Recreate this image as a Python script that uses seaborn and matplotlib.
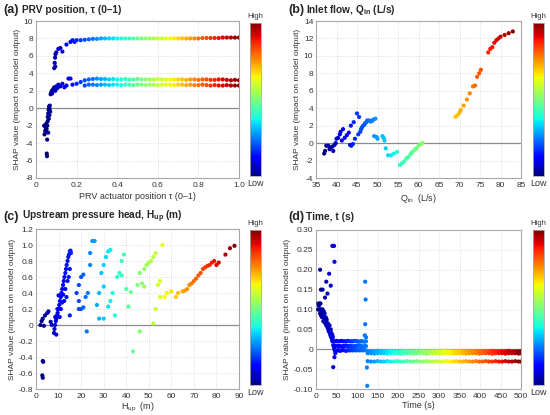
import numpy as np
import pandas as pd
import matplotlib
matplotlib.use('Agg')
import matplotlib.pyplot as plt
import seaborn as sns

# ---- (a) PRV position ----
tau_early = [0.040, 0.042, 0.045, 0.048, 0.050, 0.052, 0.053, 0.054, 0.055, 0.056,
             0.058, 0.060, 0.062, 0.063, 0.065, 0.066, 0.068, 0.070, 0.060, 0.057,
             0.064, 0.067, 0.072, 0.075, 0.078, 0.080, 0.085, 0.090, 0.095, 0.100,
             0.105, 0.110, 0.120, 0.130, 0.140, 0.150, 0.160, 0.170, 0.180, 0.200,
             0.220, 0.090, 0.092, 0.094, 0.095, 0.096, 0.100, 0.110, 0.120, 0.130,
             0.150, 0.170, 0.180, 0.190, 0.200, 0.220]
shap_tau_early = [-2.0, -3.0, -2.6, -2.2, -1.8, -2.4, -5.2, -5.5, -3.6, -2.0,
                  -1.0, -0.6, -0.2, -1.2, 0.0, -0.8, 0.3, -0.4, -2.8, -1.5,
                  0.2, -0.1, 1.6, 1.8, 2.0, 1.7, 2.2, 2.4, 2.0, 2.5,
                  2.3, 2.7, 2.5, 2.8, 2.4, 2.6, 3.4, 3.4, 2.7, 2.8,
                  3.0, 4.6, 5.2, 5.8, 4.8, 6.2, 6.4, 6.8, 6.9, 6.5,
                  7.3, 7.6, 7.8, 7.6, 7.8, 7.8]
tau_flat = [0.24, 0.26, 0.28, 0.30, 0.32, 0.34, 0.36, 0.38, 0.40, 0.42,
            0.44, 0.46, 0.48, 0.50, 0.52, 0.54, 0.56, 0.58, 0.60, 0.62,
            0.64, 0.66, 0.68, 0.70, 0.72, 0.74, 0.76, 0.78, 0.80, 0.82,
            0.84, 0.86, 0.88, 0.90, 0.92, 0.94, 0.96, 0.98, 1.00]
shap_tau_top = [7.85, 7.9, 7.95, 7.95, 8.0, 8.0, 8.0, 8.0, 8.0, 8.0,
                8.0, 8.0, 8.0, 8.0, 8.0, 8.0, 8.0, 8.0, 8.0, 8.0,
                8.0, 8.0, 8.0, 8.0, 8.0, 8.0, 8.0, 8.0, 8.0, 8.05,
                8.05, 8.05, 8.05, 8.05, 8.1, 8.1, 8.1, 8.1, 8.1]
shap_tau_mid = [3.2, 3.3, 3.35, 3.4, 3.35, 3.35, 3.3, 3.35, 3.3, 3.3,
                3.35, 3.3, 3.3, 3.35, 3.3, 3.3, 3.3, 3.3, 3.35, 3.3,
                3.3, 3.3, 3.3, 3.3, 3.3, 3.25, 3.3, 3.3, 3.25, 3.3,
                3.3, 3.25, 3.25, 3.3, 3.3, 3.25, 3.2, 3.25, 3.2]
shap_tau_low = [2.6, 2.7, 2.7, 2.65, 2.7, 2.7, 2.65, 2.7, 2.7, 2.65,
                2.7, 2.7, 2.65, 2.7, 2.7, 2.65, 2.7, 2.7, 2.65, 2.7,
                2.7, 2.7, 2.65, 2.7, 2.7, 2.65, 2.7, 2.65, 2.65, 2.7,
                2.65, 2.6, 2.65, 2.6, 2.6, 2.65, 2.6, 2.6, 2.6]

# ---- (b) Inlet flow ----
flow = [37.0, 37.2, 37.5, 38.0, 38.3, 38.6, 39.0, 39.2, 39.5, 39.8,
        40.0, 40.4, 40.8, 41.0, 41.3, 41.6, 42.0, 42.5, 43.0, 43.3,
        43.6, 43.5, 44.0, 44.2, 44.5, 45.0, 45.3, 45.5, 45.8, 46.0,
        46.5, 47.0, 47.5, 48.0, 48.5, 49.0, 49.5, 49.2, 49.8, 50.0,
        51.2, 51.5, 51.7, 52.0, 52.6, 53.3, 54.0, 54.8, 55.5, 56.0,
        56.5, 57.0, 57.5, 58.0, 58.5, 59.0, 59.5, 60.0, 60.5, 61.0,
        69.0, 69.5, 70.0, 70.3, 71.0, 71.8, 72.5, 73.3, 73.8, 74.3,
        74.8, 75.2, 77.0, 77.5, 78.0, 78.5, 79.0, 79.5, 80.0, 81.0,
        82.0, 83.0, 46.2, 46.8, 47.3, 48.2, 48.8, 57.2, 58.2, 59.2]
shap_flow = [-1.2, -0.9, -0.3, -0.3, -0.7, -0.5, -0.4, -0.9, -0.2, 0.0,
             0.5, 0.6, 1.0, 1.3, 0.3, 1.6, 0.6, 0.9, 1.2, -0.2,
             -0.3, 2.0, -0.1, 2.4, 0.5, 3.4, 1.0, 3.0, 1.3, 1.6,
             2.0, 2.3, 2.6, 2.6, 2.5, 2.7, 2.8, 0.8, 0.7, 0.5,
             0.8, 0.6, 0.3, -0.6, -1.4, -1.4, -1.2, -1.0, -2.5, -2.3,
             -2.1, -1.8, -1.6, -1.3, -1.0, -0.8, -0.6, -0.3, -0.1, 0.0,
             3.0, 3.2, 3.5, 3.8, 4.3, 5.0, 5.7, 6.5, 6.6, 7.6,
             8.0, 8.4, 10.4, 10.8, 11.0, 11.5, 11.8, 12.0, 12.2, 12.4,
             12.6, 12.8, 1.8, 2.1, 2.4, 2.5, 2.6, -1.7, -1.2, -0.7]

# ---- (c) Upstream pressure head ----
head = [2.0, 2.5, 3.0, 3.5, 4.0, 5.0, 5.5, 3.0, 3.2, 2.8, 3.0, 6.5, 7.0,
        8.0, 8.2, 8.5, 8.8, 9.0, 9.3, 9.6, 10.0, 10.3, 10.6,
        11.0, 11.3, 11.6, 12.0, 12.3, 12.6, 13.0, 13.3, 13.6, 14.0,
        14.3, 14.6, 15.0, 15.3, 15.5, 10.0, 12.0, 15.0, 9.0, 11.5,
        8.5, 9.5, 10.5, 11.0, 12.5, 13.0, 14.0, 15.0, 13.5, 14.5,
        18.0, 19.0, 19.0, 20.0, 21.0, 22.0, 23.0, 24.0, 25.0, 26.0, 22.5, 20.0, 21.0, 19.0, 24.0,
        27.0, 28.0, 30.0, 29.0, 30.0, 31.0, 32.0, 33.0, 28.0, 30.0, 32.0, 33.0, 34.0, 35.0,
        36.0, 37.0, 38.0, 39.0, 40.0, 38.0, 42.0, 41.0, 43.0,
        45.0, 46.0, 47.0, 48.0, 49.0, 50.0, 51.0, 52.0, 53.0, 46.0, 48.0, 52.0, 53.0, 54.0, 55.0, 56.0, 55.0,
        57, 58, 60, 62, 63, 65, 66, 67, 68, 69, 70, 71, 72,
        73, 74, 75, 76, 77, 78, 79, 80, 81, 84, 86, 88]
shap_head = [0.0, 0.05, 0.08, -0.01, 0.12, 0.15, 0.17, -0.45, -0.46, -0.63, -0.66, 0.04, 0.0,
             -0.1, -0.05, 0.0, 0.05, 0.08, 0.12, 0.15, 0.2, 0.25, 0.3,
             0.35, 0.4, 0.45, 0.5, 0.55, 0.6, 0.65, 0.7, 0.75, 0.8,
             0.85, 0.88, 0.92, 0.93, 0.9, 0.37, 0.38, 0.12, -0.12, 0.28,
             0.1, 0.2, 0.1, 0.2, 0.3, 0.45, 0.55, 0.7, 0.35, 0.6,
             0.4, 0.3, 0.2, 0.2, 0.22, 0.35, 0.4, 0.9, 1.05, 1.05, -0.08, 0.6, 0.63, 0.5, 0.75,
             0.25, 0.08, 0.08, 0.65, 0.75, 0.85, 0.92, 0.94, 0.4, 0.48, 0.23, 0.3, 0.4, 0.12,
             0.6, 0.65, 0.8, 0.88, 0.45, 0.62, 0.41, 0.23, -0.33,
             0.5, 0.65, 0.52, 0.7, 0.75, 0.78, 0.8, 0.85, 0.9, -0.08, 0.48, 0.02, 0.2, 0.5, 0.55, 1.0, 0.35,
             0.35, 0.4, 0.42, 0.35, 0.4, 0.42, 0.43, 0.45, 0.5, 0.52, 0.55, 0.58, 0.62,
             0.65, 0.7, 0.72, 0.74, 0.75, 0.78, 0.8, 0.75, 0.78, 0.88, 0.96, 0.99]

# ---- (d) Time ----
time_early = [5, 6, 7, 8, 9, 10, 10, 11, 12, 12,
              13, 14, 15, 15, 16, 17, 18, 18, 19, 20,
              20, 21, 22, 23, 24, 25, 25, 26, 27, 28,
              29, 30, 30, 31, 32, 33, 34, 35, 35, 36,
              37, 38, 39, 40, 40, 41, 42, 43, 44, 45,
              10, 12, 16, 22, 25, 28, 32, 36, 40, 44, 45, 42, 45, 47,
              119, 120, 120, 121, 122, 124, 125]
shap_time_early = [0.10, 0.115, 0.11, 0.10, 0.115, 0.10, 0.09, 0.115, 0.10, 0.085,
                   0.10, 0.095, 0.09, 0.08, 0.10, 0.09, 0.085, 0.07, 0.095, 0.08,
                   0.07, 0.09, 0.075, 0.065, 0.08, 0.06, 0.07, 0.075, 0.06, 0.055,
                   0.065, 0.05, 0.06, 0.045, 0.05, 0.06, 0.04, 0.045, 0.035, 0.05,
                   0.03, 0.04, 0.025, 0.035, 0.02, 0.03, 0.01, 0.02, 0.005, 0.0,
                   0.2, 0.15, 0.15, 0.13, 0.17, 0.14, 0.19, 0.16, 0.26, 0.26, 0.22, -0.045, -0.02, -0.01,
                   0.035, 0.17, 0.063, 0.125, 0.03, -0.046, -0.092]
time_mid = [46, 50, 54, 58, 62, 66, 70, 74, 78, 82,
            86, 90, 94, 98, 102, 106, 110, 114, 118, 122]
shap_time_mid_hi = [0.02, 0.021, 0.02, 0.02, 0.021, 0.02, 0.02, 0.02, 0.021, 0.02,
                    0.02, 0.02, 0.021, 0.02, 0.02, 0.019, 0.02, 0.02, 0.019, 0.02]
shap_time_mid_lo = [0.008, 0.009, 0.008, 0.008, 0.007, 0.008, 0.008, 0.009, 0.008, 0.008,
                    0.008, 0.007, 0.008, 0.008, 0.009, 0.008, 0.008, 0.007, 0.008, 0.008]
shap_time_mid_zero = [-0.003, -0.004, -0.002, -0.004, -0.003, -0.002, -0.003, -0.004, -0.002, -0.003,
                      -0.002, -0.003, -0.002, -0.003, -0.002, -0.003, -0.002, -0.003, -0.002, -0.003]
time_late = [126, 134, 142, 150, 158, 166, 174, 182, 190, 198,
             206, 214, 222, 230, 238, 246, 254, 262, 270, 278,
             286, 294, 302, 310, 318, 326, 334, 342, 350, 358,
             366, 374, 382, 390, 398, 406, 414, 422, 430, 438,
             446, 454, 462, 470, 478, 486, 494, 500]
shap_time_late_a = [-0.005, -0.005, -0.005, -0.004, -0.005, -0.005, -0.005, -0.004, -0.005, -0.005,
                    -0.005, -0.005, -0.004, -0.005, -0.005, -0.005, -0.005, -0.004, -0.005, -0.005,
                    -0.005, -0.005, -0.005, -0.004, -0.005, -0.005, -0.005, -0.005, -0.004, -0.005,
                    -0.005, -0.005, -0.005, -0.004, -0.005, -0.005, -0.005, -0.005, -0.004, -0.005,
                    -0.005, -0.005, -0.005, -0.004, -0.005, -0.005, -0.005, -0.005]
shap_time_late_b = [-0.010, -0.010, -0.011, -0.010, -0.010, -0.010, -0.011, -0.010, -0.010, -0.010,
                    -0.011, -0.010, -0.010, -0.010, -0.011, -0.010, -0.010, -0.010, -0.011, -0.010,
                    -0.010, -0.010, -0.011, -0.010, -0.010, -0.010, -0.011, -0.010, -0.010, -0.010,
                    -0.011, -0.010, -0.010, -0.010, -0.011, -0.010, -0.010, -0.010, -0.011, -0.010,
                    -0.010, -0.010, -0.011, -0.010, -0.010, -0.010, -0.011, -0.010]
shap_time_late_c = [-0.030, -0.031, -0.031, -0.030, -0.031, -0.031, -0.030, -0.031, -0.031, -0.030,
                    -0.031, -0.031, -0.030, -0.031, -0.031, -0.030, -0.031, -0.031, -0.030, -0.031,
                    -0.031, -0.030, -0.031, -0.031, -0.030, -0.031, -0.031, -0.030, -0.031, -0.031,
                    -0.030, -0.031, -0.031, -0.030, -0.031, -0.031, -0.030, -0.031, -0.031, -0.030,
                    -0.031, -0.031, -0.030, -0.031, -0.031, -0.030, -0.031, -0.031]

# assemble tables
df_a = pd.DataFrame({'x': tau_early + tau_flat * 3,
                     'y': shap_tau_early + shap_tau_top + shap_tau_mid + shap_tau_low})
df_b = pd.DataFrame({'x': flow, 'y': shap_flow})
df_c = pd.DataFrame({'x': head, 'y': shap_head})
df_d = pd.DataFrame({'x': time_early + time_mid * 3 + time_late * 3,
                     'y': shap_time_early + shap_time_mid_hi + shap_time_mid_lo + shap_time_mid_zero
                          + shap_time_late_a + shap_time_late_b + shap_time_late_c})

sns.set_style('white')
plt.rcParams['font.family'] = ['Liberation Sans', 'DejaVu Sans']
plt.rcParams['mathtext.fontset'] = 'custom'
plt.rcParams['mathtext.rm'] = 'Liberation Sans'
plt.rcParams['mathtext.bf'] = 'Liberation Sans:bold'

jet = plt.get_cmap('jet')
fig = plt.figure(figsize=(5.5, 4.15), dpi=100)

W, H = 550.0, 415.0
def frac(l, t, r, b):
    return [l / W, 1 - b / H, (r - l) / W, (b - t) / H]

def fmt(v, f):
    return '0' if abs(v) < 1e-9 else f.format(v)

panels = [
    dict(df=df_a, ax=frac(36, 21, 239, 178), cb=frac(250, 23, 261, 176),
         xlim=(0, 1), ylim=(-8, 10), xt=np.arange(0, 1.01, 0.2), yt=np.arange(-8, 10.1, 2),
         xfmt='{:.1f}', yfmt='{:g}', xlabel='PRV actuator position τ (0–1)', lp=2,
         tag='(a)', title='PRV position, τ (0–1)', tx=(3, 10), ttx=22, norm=(0.05, 1.0)),
    dict(df=df_b, ax=frac(316, 21, 521, 178), cb=frac(533, 23, 544, 176),
         xlim=(35, 85), ylim=(-4, 14), xt=np.arange(35, 86, 5), yt=np.arange(-4, 14.1, 2),
         xfmt='{:g}', yfmt='{:g}', xlabel='Q$_{\\mathregular{in}}$  (L/s)', lp=2,
         tag='(b)', title='Inlet flow, Q$_{\\mathbf{in}}$ (L/s)', tx=(288, 10), ttx=306, norm=(37, 83)),
    dict(df=df_c, ax=frac(36, 229, 239, 389), cb=frac(250, 230, 261, 385),
         xlim=(0, 90), ylim=(-0.8, 1.2), xt=np.arange(0, 91, 10), yt=np.arange(-0.8, 1.21, 0.2),
         xfmt='{:g}', yfmt='{:.1f}', xlabel='H$_{\\mathregular{up}}$  (m)', lp=0.5,
         tag='(c)', title='Upstream pressure head, H$_{\\mathbf{up}}$ (m)', tx=(3, 217), ttx=22, norm=(2, 88)),
    dict(df=df_d, ax=frac(316, 230, 521, 389), cb=frac(533, 230, 544, 385),
         xlim=(0, 500), ylim=(-0.1, 0.3), xt=np.arange(0, 501, 50), yt=np.arange(-0.1, 0.31, 0.05),
         xfmt='{:g}', yfmt='{:.2f}', xlabel='Time (s)', lp=0.5,
         tag='(d)', title='Time, t (s)', tx=(288, 217), ttx=306, norm=(0, 500)),
]

edge = '#a8a8a8'
for p in panels:
    ax = fig.add_axes(p['ax'])
    ax.axhline(0, color='#8c8c8c', lw=0.9, zorder=1)
    sns.scatterplot(data=p['df'], x='x', y='y', hue='x', palette=jet,
                    hue_norm=p['norm'], s=9, linewidth=0, legend=False, ax=ax, zorder=3)
    ax.set_xlim(*p['xlim'])
    ax.set_ylim(*p['ylim'])
    ax.set_xticks(p['xt'])
    ax.set_yticks(p['yt'])
    ax.set_xticklabels([fmt(v, p['xfmt']) for v in p['xt']])
    ax.set_yticklabels([fmt(v, p['yfmt']) for v in p['yt']])
    ax.grid(True, color='#d4d4d4', ls=':', lw=0.6)
    ax.tick_params(labelsize=6, length=2, direction='in', colors='#333333', pad=2)
    ax.tick_params(axis='x', pad=3)
    for s in ax.spines.values():
        s.set_color(edge)
        s.set_linewidth(0.8)
    ax.set_xlabel(p['xlabel'], fontsize=6.5, color='#333333', labelpad=p['lp'])
    ax.set_ylabel('SHAP value (impact on model output)', fontsize=6, color='#333333', labelpad=2)

    cax = fig.add_axes(p['cb'])
    sm = plt.cm.ScalarMappable(cmap=jet, norm=plt.Normalize(0, 1))
    cb = fig.colorbar(sm, cax=cax)
    cb.set_ticks([])
    cb.outline.set_edgecolor(edge)
    cb.outline.set_linewidth(0.6)
    cx = (p['cb'][0] + p['cb'][2] / 2)
    fig.text(cx, p['cb'][1] + p['cb'][3] + 0.008, 'High', ha='center', va='bottom',
             fontsize=5.5, color='#333333')
    fig.text(cx, p['cb'][1] - 0.008, 'Low', ha='center', va='top',
             fontsize=6.5, color='#333333')

    fig.text(p['tx'][0] / W, 1 - p['tx'][1] / H, p['tag'], fontsize=9, fontweight='bold',
             ha='left', va='center')
    fig.text(p['ttx'] / W, 1 - p['tx'][1] / H, p['title'], fontsize=7.3, fontweight='bold',
             ha='left', va='center')

fig.savefig('out.png', dpi=100)
